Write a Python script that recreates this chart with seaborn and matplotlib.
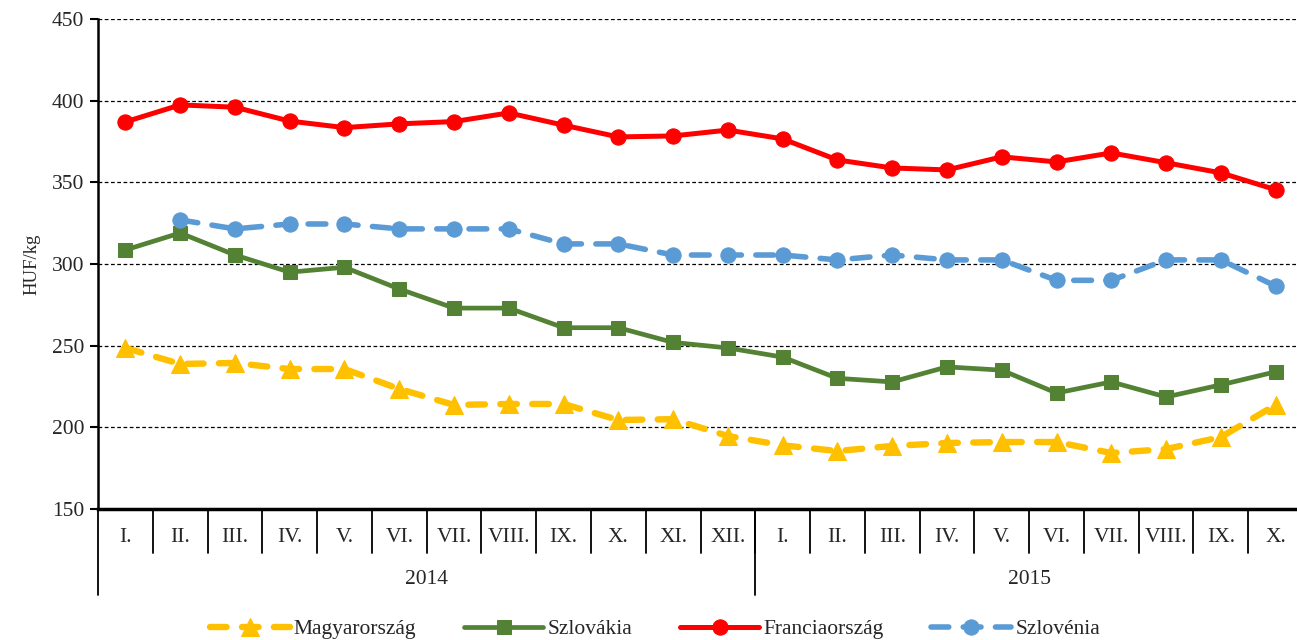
import matplotlib
matplotlib.use("Agg")
import matplotlib.pyplot as plt
import matplotlib.transforms as mtransforms
import seaborn as sns
import numpy as np
import pandas as pd

# data (HUF/kg, monthly, 2014 I. - 2015 X.)
months = ["I.", "II.", "III.", "IV.", "V.", "VI.", "VII.", "VIII.", "IX.", "X.", "XI.", "XII.",
          "I.", "II.", "III.", "IV.", "V.", "VI.", "VII.", "VIII.", "IX.", "X."]
years = ["2014", "2015"]
year_lengths = [12, 10]

magyarorszag = [248.6, 238.8, 239.4, 235.7, 235.7, 223.5, 213.7, 214.3, 214.3, 204.5, 205.0, 194.7,
                189.0, 185.5, 188.6, 190.4, 191.0, 191.0, 184.3, 186.7, 194.0, 213.7]
szlovakia = [308.6, 319.0, 305.5, 295.0, 298.0, 284.7, 273.0, 273.0, 261.0, 261.0, 252.0, 248.6,
             243.0, 230.0, 227.8, 237.0, 235.0, 221.0, 227.8, 218.6, 226.0, 234.0]
franciaorszag = [387.0, 397.4, 396.0, 387.5, 383.5, 385.8, 387.2, 392.5, 385.0, 377.8, 378.4, 382.0,
                 376.6, 363.7, 358.8, 357.6, 365.6, 362.5, 368.0, 362.0, 355.8, 345.5]
szlovenia = [np.nan, 327.0, 321.5, 324.5, 324.5, 321.5, 321.5, 321.5, 312.3, 312.3, 305.5, 305.5,
             305.5, 302.5, 305.5, 302.5, 302.5, 290.0, 290.0, 302.5, 302.5, 286.5]

# name, values, colour, marker, marker size, line width, line style
series = [
    ("Magyarország", magyarorszag, "#FFC000", "^", 13, 4.6, (0, (2.6, 2.4))),
    ("Szlovákia", szlovakia, "#548235", "s", 10.5, 3.4, "-"),
    ("Franciaország", franciaorszag, "#FF0000", "o", 11, 3.6, "-"),
    ("Szlovénia", szlovenia, "#5B9BD5", "o", 11, 4.0, (0, (3.2, 2.6))),
]

sns.set_theme(style="white")
plt.rcParams["font.family"] = ["Liberation Serif", "DejaVu Serif"]

fig = plt.figure(figsize=(12.97, 6.4), dpi=100)
ax = fig.add_axes([98 / 1297, 1 - 509 / 640, 1205 / 1297, 490 / 640])

x = np.arange(len(months))
for name, vals, color, marker, ms, lw, ls in series:
    df = pd.DataFrame({"x": x, "y": vals}).dropna()
    sns.lineplot(data=df, x="x", y="y", ax=ax, color=color, marker=marker, markersize=ms,
                 markeredgecolor=color, linewidth=lw, linestyle=ls, label=name,
                 dash_capstyle="round", solid_capstyle="round")

ax.set_xlim(-0.5, len(months) - 0.5)
ax.set_ylim(150, 450)
ax.set_yticks(np.arange(150, 451, 50))
ax.tick_params(axis="y", labelsize=15.5, length=6, width=1.5, color="black", left=True, pad=4)
ax.set_xticks([])
ax.set_xlabel("")
ax.set_ylabel("HUF/kg", fontsize=13.5, labelpad=8)

for y in range(200, 451, 50):
    ax.axhline(y, color="black", linestyle=(0, (3, 2)), linewidth=0.9, zorder=0)

for side in ["top", "right"]:
    ax.spines[side].set_visible(False)
ax.spines["left"].set_color("black")
ax.spines["left"].set_linewidth(1.8)
ax.spines["bottom"].set_color("black")
ax.spines["bottom"].set_linewidth(2.5)

# two-level category axis
trans = mtransforms.blended_transform_factory(ax.transData, ax.transAxes)
ax_h = 490.0
for i, m in enumerate(months):
    ax.text(i, -28 / ax_h, m, transform=trans, ha="center", va="center", fontsize=15.5)
for k in range(1, len(months)):
    ax.plot([k - 0.5, k - 0.5], [0, -44 / ax_h], transform=trans, color="black",
            linewidth=1.3, clip_on=False)
start = 0
bounds = [-0.5]
for yr, n in zip(years, year_lengths):
    ax.text(start + (n - 1) / 2, -71 / ax_h, yr, transform=trans, ha="center", va="center",
            fontsize=15.5)
    start += n
    bounds.append(start - 0.5)
for b in bounds:
    ax.plot([b, b], [0, -86 / ax_h], transform=trans, color="black", linewidth=1.3,
            clip_on=False)

ax.legend(loc="lower center", bbox_to_anchor=(0.505, -0.012), bbox_transform=fig.transFigure,
          ncol=4, frameon=False, fontsize=15.5, handlelength=3.7, handletextpad=0.2,
          columnspacing=2.2, borderaxespad=0)

fig.savefig("out.png", dpi=100, facecolor="white")
